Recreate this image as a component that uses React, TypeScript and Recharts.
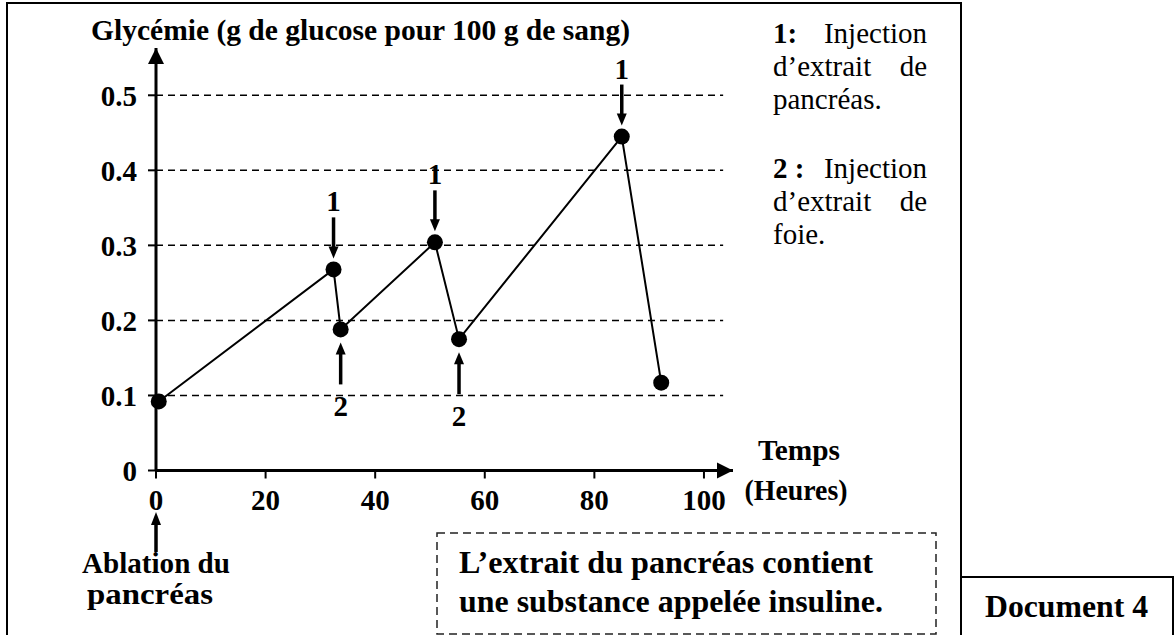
import { Line, LineChart, ReferenceDot, ReferenceLine, XAxis, YAxis } from "recharts";

// Glycémie after removal of the pancreas, with injections of extracts
const hours = [0.5, 32.4, 33.7, 50.9, 55.3, 85.0, 92.2];
const glycemia = [0.092, 0.268, 0.188, 0.304, 0.175, 0.445, 0.117];
// "1" = extrait de pancréas, "2" = extrait de foie
const injections = ["", "1", "2", "1", "2", "1", ""];

const xTicks = [0, 20, 40, 60, 80, 100];
const yTicks = [0, 0.1, 0.2, 0.3, 0.4, 0.5];
const gridLevels = [0.1, 0.2, 0.3, 0.4, 0.5];

const X_MAX = 105.3;
const Y_MAX = 0.563;
const GRID_END = 103.5;

const data = hours.map((t, i) => ({ t, g: glycemia[i], inj: injections[i] }));

const SERIF = '"Liberation Serif", "Times New Roman", serif';
const bold = { fontFamily: SERIF, fontWeight: 700, fill: "#000" } as const;
const plain = { fontFamily: SERIF, fontWeight: 400, fill: "#000" } as const;

function InjectionDot({ cx, cy, inj }: { cx: number; cy: number; inj: string }) {
  return (
    <g>
      <circle cx={cx} cy={cy} r={8} fill="#000" />
      {inj === "1" && (
        <g>
          <text x={cx} y={cy - 58} textAnchor="middle" fontSize={29} {...bold}>
            1
          </text>
          <line x1={cx} y1={cy - 52} x2={cx} y2={cy - 22} stroke="#000" strokeWidth={3.5} />
          <polygon points={`${cx - 5},${cy - 23} ${cx + 5},${cy - 23} ${cx},${cy - 11}`} fill="#000" />
        </g>
      )}
      {inj === "2" && (
        <g>
          <polygon points={`${cx - 5},${cy + 25} ${cx + 5},${cy + 25} ${cx},${cy + 13}`} fill="#000" />
          <line x1={cx} y1={cy + 24} x2={cx} y2={cy + 55} stroke="#000" strokeWidth={3.5} />
          <text x={cx} y={cy + 87} textAnchor="middle" fontSize={29} {...bold}>
            2
          </text>
        </g>
      )}
    </g>
  );
}

const renderDot = (p: any) => {
  if (p.cx == null || p.cy == null) return <g key={`d${p.index}`} />;
  return <InjectionDot key={`d${p.index}`} cx={p.cx} cy={p.cy} inj={p.payload?.inj ?? ""} />;
};

const RightArrowHead = (p: any) => (
  <polygon points={`${p.cx - 16},${p.cy - 8} ${p.cx - 16},${p.cy + 8} ${p.cx},${p.cy}`} fill="#000" />
);
const UpArrowHead = (p: any) => (
  <polygon points={`${p.cx - 8},${p.cy + 16} ${p.cx + 8},${p.cy + 16} ${p.cx},${p.cy}`} fill="#000" />
);

export default function App() {
  const tickStyle = { fontSize: 29, ...bold };
  return (
    <div style={{ position: "absolute", left: 0, top: 0, width: 1175, height: 635, background: "#fff" }}>
      <LineChart
        width={1175}
        height={635}
        data={data}
        margin={{ top: 48, right: 442, bottom: 104.5, left: 76 }}
      >
        <XAxis
          type="number"
          dataKey="t"
          domain={[0, X_MAX]}
          ticks={xTicks}
          interval={0}
          height={60}
          axisLine={{ stroke: "#000", strokeWidth: 3 }}
          tickLine={{ stroke: "#000", strokeWidth: 2 }}
          tickSize={8}
          tickMargin={11}
          tick={tickStyle}
        />
        <YAxis
          type="number"
          dataKey="g"
          domain={[0, Y_MAX]}
          ticks={yTicks}
          interval={0}
          width={80}
          axisLine={{ stroke: "#000", strokeWidth: 3 }}
          tickLine={{ stroke: "#000", strokeWidth: 2 }}
          tickSize={8}
          tickMargin={11}
          tick={tickStyle}
          tickFormatter={(v: number) => (v === 0 ? "0" : v.toFixed(1))}
        />
        {gridLevels.map((lvl) => (
          <ReferenceLine
            key={lvl}
            segment={[
              { x: 0, y: lvl },
              { x: GRID_END, y: lvl },
            ]}
            stroke="#000"
            strokeWidth={1.5}
            strokeDasharray="7 5"
            ifOverflow="visible"
          />
        ))}
        <ReferenceDot x={X_MAX} y={0} r={8} ifOverflow="visible" shape={RightArrowHead} />
        <ReferenceDot x={0} y={Y_MAX} r={8} ifOverflow="visible" shape={UpArrowHead} />
        <Line
          type="linear"
          dataKey="g"
          stroke="#000"
          strokeWidth={2}
          dot={renderDot}
          activeDot={false}
          isAnimationActive={false}
        />
      </LineChart>

      <svg
        width={1175}
        height={635}
        style={{ position: "absolute", left: 0, top: 0, pointerEvents: "none" }}
      >
        {/* outer frame */}
        <path d="M7 635 V3 H961 V635" fill="none" stroke="#000" strokeWidth={2} />
        {/* document box */}
        <path d="M961 577 H1173 V635" fill="none" stroke="#000" strokeWidth={2} />
        <text x={985} y={617} fontSize={31} textLength={163} lengthAdjust="spacingAndGlyphs" {...bold}>
          Document 4
        </text>

        <text x={91} y={40} fontSize={29} textLength={539} lengthAdjust="spacingAndGlyphs" {...bold}>
          Glycémie (g de glucose pour 100 g de sang)
        </text>

        {/* legend */}
        <text x={773} y={43} fontSize={29} {...bold}>1:</text>
        <text x={927} y={43} fontSize={29} textAnchor="end" {...plain}>Injection</text>
        <text x={773} y={76} fontSize={29} {...plain}>d’extrait</text>
        <text x={927} y={76} fontSize={29} textAnchor="end" {...plain}>de</text>
        <text x={773} y={109} fontSize={29} {...plain}>pancréas.</text>
        <text x={773} y={178} fontSize={29} {...bold}>2 :</text>
        <text x={927} y={178} fontSize={29} textAnchor="end" {...plain}>Injection</text>
        <text x={773} y={211} fontSize={29} {...plain}>d’extrait</text>
        <text x={927} y={211} fontSize={29} textAnchor="end" {...plain}>de</text>
        <text x={773} y={244} fontSize={29} {...plain}>foie.</text>

        {/* x axis title */}
        <text x={799} y={460} fontSize={29} textAnchor="middle" textLength={82} lengthAdjust="spacingAndGlyphs" {...bold}>
          Temps
        </text>
        <text x={796} y={500} fontSize={29} textAnchor="middle" textLength={103} lengthAdjust="spacingAndGlyphs" {...bold}>
          (Heures)
        </text>

        {/* ablation marker */}
        <line x1={156} y1={552} x2={156} y2={523} stroke="#000" strokeWidth={3.5} />
        <polygon points="151,525 161,525 156,512" fill="#000" />
        <text x={156} y={573} fontSize={30} textAnchor="middle" textLength={148} lengthAdjust="spacingAndGlyphs" {...bold}>
          Ablation du
        </text>
        <text x={150} y={604} fontSize={30} textAnchor="middle" textLength={126} lengthAdjust="spacingAndGlyphs" {...bold}>
          pancréas
        </text>

        {/* conclusion box */}
        <rect x={437} y={533} width={499} height={101} fill="none" stroke="#222" strokeWidth={1.5} strokeDasharray="8 5" />
        <text x={459} y={573} fontSize={32} textLength={414} lengthAdjust="spacingAndGlyphs" {...bold}>
          L’extrait du pancréas contient
        </text>
        <text x={459} y={612} fontSize={32} textLength={424} lengthAdjust="spacingAndGlyphs" {...bold}>
          une substance appelée insuline.
        </text>
      </svg>
    </div>
  );
}
